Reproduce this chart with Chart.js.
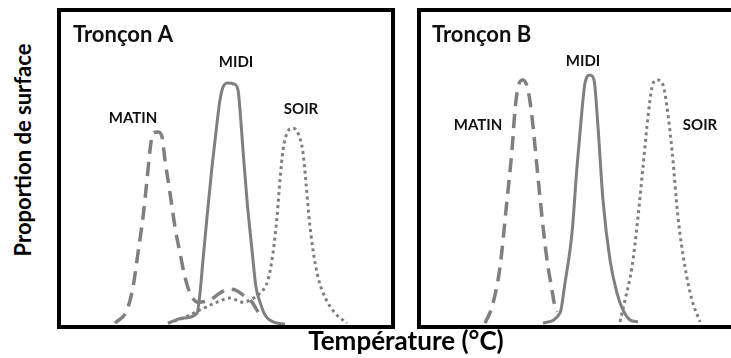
<!DOCTYPE html>
<html lang="fr">
<head>
<meta charset="utf-8">
<title>Proportion de surface par tronçon</title>
<script src="https://cdn.jsdelivr.net/npm/chart.js@4.4.1/dist/chart.umd.min.js"></script>
<style>
  html, body { margin: 0; padding: 0; background: #fff; }
  body { width: 731px; height: 358px; position: relative; overflow: hidden; font-family: Lato, "Open Sans", sans-serif; }
  .panel { position: absolute; top: 8px; height: 321px; border: 4px solid #000; box-sizing: border-box; }
  #panelA { left: 57px; width: 338px; }
  #panelB { left: 417px; width: 322px; }
  .panel canvas { display: block; }
  .axis-title { position: absolute; font-weight: bold; color: #000; line-height: 1; white-space: nowrap; }
  #titreX { font-size: 26px; left: 406px; top: 327px; transform: translateX(-50%); }
  #titreY { font-size: 22px; left: 23px; top: 150px; transform: translate(-50%, -50%) rotate(-90deg); }
</style>
</head>
<body>
<div id="panelA" class="panel"><canvas id="chartA" width="330" height="313"></canvas></div>
<div id="panelB" class="panel"><canvas id="chartB" width="314" height="313"></canvas></div>
<div id="titreY" class="axis-title">Proportion de surface</div>
<div id="titreX" class="axis-title">Température (°C)</div>
<script>
/* global Chart */

// Tronçon A : température (unités relatives) et proportion de surface
const matinAx = [5.4, 6.6, 7.2, 7.7, 8.2, 8.6, 8.9, 9.2, 9.7, 10.1, 10.4, 10.9, 11.4, 11.9, 12.4, 12.9, 13.7, 14.9, 15.9, 16.7, 17.4, 18.2, 19.1, 19.7, 20.2]
const matinAy = [0.006, 0.048, 0.121, 0.230, 0.345, 0.463, 0.559, 0.613, 0.617, 0.601, 0.527, 0.422, 0.313, 0.230, 0.153, 0.102, 0.073, 0.080, 0.102, 0.115, 0.112, 0.096, 0.073, 0.042, 0.022]

const midiAx = [10.7, 12.2, 13.6, 13.9, 14.2, 14.6, 15.1, 15.6, 15.9, 16.2, 16.7, 17.3, 17.7, 17.9, 18.2, 18.6, 19.1, 19.5, 19.9, 20.4, 21.2, 22.4]
const midiAy = [0.006, 0.022, 0.038, 0.102, 0.208, 0.345, 0.505, 0.645, 0.719, 0.760, 0.773, 0.770, 0.751, 0.687, 0.559, 0.399, 0.240, 0.121, 0.073, 0.032, 0.010, 0.003]

const soirAx = [10.7, 12.2, 13.9, 15.6, 16.9, 18.2, 19.1, 19.9, 20.7, 21.2, 21.6, 21.9, 22.2, 22.6, 23.2, 23.7, 24.2, 24.5, 24.8, 25.2, 25.7, 26.4, 27.4, 28.6]
const soirAy = [0.006, 0.022, 0.048, 0.073, 0.086, 0.073, 0.083, 0.102, 0.144, 0.230, 0.345, 0.463, 0.559, 0.613, 0.629, 0.613, 0.550, 0.454, 0.345, 0.240, 0.153, 0.089, 0.038, 0.006]

// Tronçon B
const matinBx = [6.4, 7.1, 7.9, 8.6, 9.1, 9.4, 9.7, 10.2, 10.7, 11.1, 11.6, 12.1, 12.6, 13.1, 13.4, 13.6]
const matinBy = [0.006, 0.058, 0.185, 0.399, 0.559, 0.687, 0.760, 0.783, 0.751, 0.665, 0.505, 0.345, 0.208, 0.112, 0.058, 0.042]

const midiBx = [12.2, 13.9, 14.4, 15.1, 15.6, 16.1, 16.4, 16.9, 17.3, 17.7, 18.2, 18.9, 19.6, 20.2, 20.9, 21.7]
const midiBy = [0.006, 0.038, 0.134, 0.294, 0.505, 0.687, 0.773, 0.799, 0.783, 0.633, 0.399, 0.208, 0.102, 0.048, 0.016, 0.010]

const soirBx = [19.9, 20.4, 21.1, 21.7, 22.2, 22.7, 23.1, 23.6, 24.2, 24.6, 25.1, 25.7, 26.4, 27.1, 27.9]
const soirBy = [0.010, 0.080, 0.185, 0.345, 0.505, 0.665, 0.760, 0.783, 0.767, 0.696, 0.559, 0.345, 0.185, 0.080, 0.010]

const periodes = ['MATIN', 'MIDI', 'SOIR']
// position des étiquettes (x, y en unités des axes)
const etiquettesA = [[7.2, 0.645], [17.5, 0.824], [24.0, 0.674]]
const etiquettesB = [[5.7, 0.623], [16.2, 0.827], [27.9, 0.623]]

const gris = '#7f7f7f'

function points (xs, ys) {
  return xs.map((x, i) => ({ x, y: ys[i] }))
}

const etiquettesPlugin = {
  id: 'etiquettes',
  afterDatasetsDraw (chart, args, opts) {
    const { ctx, scales } = chart
    ctx.save()
    ctx.fillStyle = '#111'
    ctx.textBaseline = 'alphabetic'
    ctx.font = 'bold 22px Lato'
    ctx.textAlign = 'left'
    ctx.fillText(opts.titre, opts.titreX, 30)
    ctx.font = 'bold 15px Lato'
    ctx.textAlign = 'center'
    opts.positions.forEach((pos, i) => {
      ctx.fillText(periodes[i], scales.x.getPixelForValue(pos[0]), scales.y.getPixelForValue(pos[1]))
    })
    ctx.restore()
  }
}

function creerGraphique (id, titre, titreX, xMax, series, positions) {
  const styles = [
    { borderDash: [14, 8], borderWidth: 3.5 },
    { borderDash: [], borderWidth: 3 },
    { borderDash: [3, 3.5], borderWidth: 3 }
  ]
  return new Chart(document.getElementById(id), {
    type: 'line',
    data: {
      datasets: series.map((s, i) => ({
        label: periodes[i],
        data: points(s[0], s[1]),
        borderColor: gris,
        borderDash: styles[i].borderDash,
        borderWidth: styles[i].borderWidth,
        pointRadius: 0,
        fill: false,
        cubicInterpolationMode: 'monotone',
        clip: false
      }))
    },
    options: {
      responsive: false,
      animation: false,
      layout: { padding: 0 },
      plugins: {
        legend: { display: false },
        tooltip: { enabled: false },
        etiquettes: { titre, titreX, positions }
      },
      scales: {
        x: { type: 'linear', min: 0, max: xMax, display: false },
        y: { type: 'linear', min: 0, max: 1, display: false }
      }
    },
    plugins: [etiquettesPlugin]
  })
}

creerGraphique('chartA', 'Tronçon A', 12, 33,
  [[matinAx, matinAy], [midiAx, midiAy], [soirAx, soirAy]], etiquettesA)
creerGraphique('chartB', 'Tronçon B', 11, 31.4,
  [[matinBx, matinBy], [midiBx, midiBy], [soirBx, soirBy]], etiquettesB)
</script>
</body>
</html>
